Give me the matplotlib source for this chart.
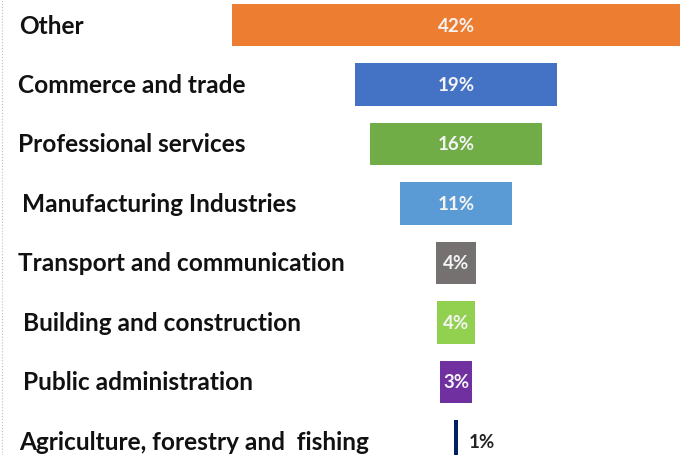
import matplotlib.pyplot as plt
from matplotlib.lines import Line2D

sectors = ['Other', 'Commerce and trade', 'Professional services', 'Manufacturing Industries',
           'Transport and communication', 'Building and construction', 'Public administration',
           'Agriculture, forestry and  fishing']
shares = [42.2, 19.0, 16.3, 10.6, 3.8, 3.5, 3.1, 0.4]
share_labels = ['42%', '19%', '16%', '11%', '4%', '4%', '3%', '1%']
colors = ['#ED7D31', '#4472C4', '#70AD47', '#5B9BD5', '#767171', '#92D050', '#7030A0', '#002060']
label_x = [19, 18, 18, 22, 18, 23, 23, 19]  # pixel offsets of the category names

fig = plt.figure(figsize=(6.83, 4.56), dpi=100)
ax = fig.add_axes([0, 0, 1, 1])

rows = list(range(len(sectors)))
ax.barh(rows, shares, left=[-s / 2 for s in shares], height=0.71, color=colors)

for i, (s, lab) in enumerate(zip(shares, share_labels)):
    if s > 2:
        ax.text(0, i, lab, ha='center', va='center', color='#f4f4f4',
                fontsize=13.5, fontweight='bold', family='Lato')
    else:
        ax.text(s / 2 + 1.0, i, lab, ha='left', va='center', color='#222222',
                fontsize=13.5, fontweight='bold', family='Lato')
    ax.text(label_x[i] / 683, i, sectors[i], transform=ax.get_yaxis_transform(),
            ha='left', va='center', fontsize=17.6, fontweight='bold', family='Lato', color='#111111')

ax.set_xlim(-43.0, 21.4)
ax.set_ylim(7.227, -0.437)
ax.axis('off')

fig.add_artist(Line2D([0.003, 0.003], [0, 1], transform=fig.transFigure,
                      color='#bbbbbb', lw=0.8, ls=':'))

fig.savefig('out.png', dpi=100)
